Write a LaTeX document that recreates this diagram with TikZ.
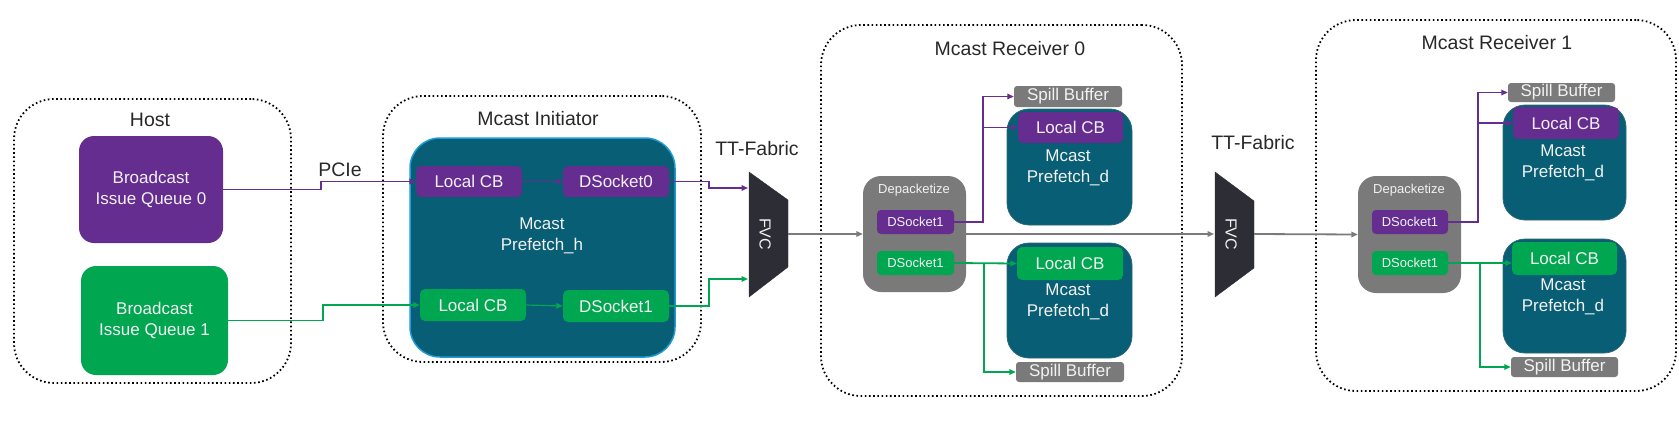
\documentclass[tikz,border=0pt]{standalone}
\usepackage{fontspec}
\setmainfont{Liberation Sans}
\usetikzlibrary{arrows.meta}
\definecolor{cpurple}{RGB}{102,45,145}
\definecolor{cgreen}{RGB}{0,166,80}
\definecolor{cteal}{RGB}{8,94,116}
\definecolor{cblue}{RGB}{30,154,214}
\definecolor{cgray}{RGB}{122,122,122}
\definecolor{cdark}{RGB}{45,45,53}
\definecolor{ctext}{RGB}{40,40,40}
\definecolor{cwhite}{RGB}{242,242,242}
\tikzset{
  grp/.style={draw=black, line width=1.8pt, dash pattern=on 1.6pt off 2.6pt, rounded corners=40pt, inner sep=0pt},
  ttl/.style={text=ctext, font=\fontsize{19.5}{22}\selectfont, inner sep=0pt},
  blk/.style={inner sep=0pt, align=center, text=cwhite, font=\fontsize{17}{21}\selectfont},
  pbox/.style={blk, fill=cpurple},
  gbox/.style={blk, fill=cgreen},
  sbox/.style={blk, fill=cgray, rounded corners=3pt},
  tealbox/.style={blk, fill=cteal, draw=cteal!70!gray, line width=0.8pt},
  small/.style={font=\fontsize{13}{15}\selectfont},
  tip/.style={-{Triangle[length=6.5pt,width=5.5pt]}},
  pl/.style={tip, draw=cpurple, line width=1.8pt},
  gl/.style={tip, draw=cgreen, line width=1.8pt},
  gyl/.style={tip, draw=cgray, line width=1.8pt},
}
\begin{document}
\begin{tikzpicture}[x=1pt,y=-1pt]
\useasboundingbox (0,0) rectangle (1679,423);
% group boxes
\node[grp, minimum width=277pt, minimum height=284pt] (host) at (152.5,241) {};
\node[grp, minimum width=318pt, minimum height=266pt] (init) at (542,229) {};
\node[grp, minimum width=361pt, minimum height=371pt] (rcv0) at (1001.5,210.5) {};
\node[grp, minimum width=360pt, minimum height=371pt] (rcv1) at (1496,205.5) {};
\node[ttl] (thost) at (150,120) {Host};
\node[ttl] (tinit) at (538,119) {Mcast Initiator};
\node[ttl] (trcv0) at (1010,49) {Mcast Receiver 0};
\node[ttl] (trcv1) at (1497,43) {Mcast Receiver 1};
\node[ttl] (tpcie) at (340,170) {PCIe};
\node[ttl] (tfab1) at (757,149) {TT-Fabric};
\node[ttl] (tfab2) at (1253,143) {TT-Fabric};
% host
\node[pbox, rounded corners=15pt, minimum width=144pt, minimum height=107pt] (biq0) at (151,189.5) {Broadcast\\Issue Queue 0};
\node[gbox, rounded corners=15pt, minimum width=147pt, minimum height=109pt] (biq1) at (154.5,320.5) {Broadcast\\Issue Queue 1};
% initiator
\node[blk, fill=cteal, draw=cblue, line width=1.5pt, rounded corners=30pt, minimum width=265pt, minimum height=219pt] (pfh) at (542.5,247.5) {};
\node[blk] (pfhtext) at (542,235.5) {Mcast\\Prefetch\_h};
\node[pbox, rounded corners=5pt, minimum width=106pt, minimum height=31pt] (lcb0) at (469,181.5) {Local CB};
\node[pbox, rounded corners=5pt, minimum width=106pt, minimum height=31pt] (dso0) at (616,181.5) {DSocket0};
\node[gbox, rounded corners=5pt, minimum width=106pt, minimum height=32pt] (lcb1) at (473,305) {Local CB};
\node[gbox, rounded corners=5pt, minimum width=106pt, minimum height=32pt] (dso1) at (616,306) {DSocket1};
% FVC 1
\filldraw[fill=cdark, draw=cdark] (749,172) -- (788,200) -- (788,267) -- (749,297) -- cycle;
\node[blk, rotate=-90, font=\fontsize{16}{18}\selectfont] (fvc1) at (765,234) {FVC};
\coordinate (f1a) at (748,188);
\coordinate (f1b) at (748,279);
\coordinate (f1o) at (788,234);
% FVC 2
\filldraw[fill=cdark, draw=cdark] (1215,172) -- (1254,201) -- (1254,268) -- (1215,297) -- cycle;
\node[blk, rotate=-90, font=\fontsize{16}{18}\selectfont] (fvc2) at (1231,234) {FVC};
\coordinate (f2i) at (1214,234);
\coordinate (f2o) at (1254,234);
% receiver 0
\node[blk, fill=cgray, rounded corners=18pt, minimum width=103pt, minimum height=116pt] (dp0) at (914.5,234) {};
\node[blk, small] (dp0t) at (914,190) {Depacketize};
\node[pbox, small, rounded corners=4pt, minimum width=77pt, minimum height=24pt] (ds0p) at (915.5,222) {DSocket1};
\node[gbox, small, rounded corners=4pt, minimum width=77pt, minimum height=24pt] (ds0g) at (915.5,263) {DSocket1};
\node[sbox, minimum width=108pt, minimum height=21pt] (sb0t) at (1068,96.5) {Spill Buffer};
\node[tealbox, rounded corners=22pt, minimum width=125pt, minimum height=116pt] (pd0t) at (1069.5,167) {};
\node[blk] (pd0tt) at (1068,167.5) {Mcast\\Prefetch\_d};
\node[pbox, rounded corners=5pt, minimum width=105pt, minimum height=31pt] (lc0t) at (1070.5,127.5) {Local CB};
\node[tealbox, rounded corners=22pt, minimum width=125pt, minimum height=115pt] (pd0b) at (1069.5,300.5) {};
\node[blk] (pd0bt) at (1068,301.5) {Mcast\\Prefetch\_d};
\node[gbox, rounded corners=5pt, minimum width=106pt, minimum height=33pt] (lc0b) at (1070,263.5) {Local CB};
\node[sbox, minimum width=108pt, minimum height=20pt] (sb0b) at (1070,372) {Spill Buffer};
% receiver 1
\node[blk, fill=cgray, rounded corners=18pt, minimum width=103pt, minimum height=117pt] (dp1) at (1409.5,234.5) {};
\node[blk, small] (dp1t) at (1409,190) {Depacketize};
\node[pbox, small, rounded corners=4pt, minimum width=76pt, minimum height=24pt] (ds1p) at (1410,222) {DSocket1};
\node[gbox, small, rounded corners=4pt, minimum width=76pt, minimum height=24pt] (ds1g) at (1410,263) {DSocket1};
\node[sbox, minimum width=107pt, minimum height=19pt] (sb1t) at (1561.5,92.5) {Spill Buffer};
\node[tealbox, rounded corners=22pt, minimum width=123pt, minimum height=115pt] (pd1t) at (1564.5,162.5) {};
\node[blk] (pd1tt) at (1563,162.5) {Mcast\\Prefetch\_d};
\node[pbox, rounded corners=5pt, minimum width=106pt, minimum height=32pt] (lc1t) at (1566,123) {Local CB};
\node[tealbox, rounded corners=22pt, minimum width=123pt, minimum height=114pt] (pd1b) at (1564.5,296) {};
\node[blk] (pd1bt) at (1563,297) {Mcast\\Prefetch\_d};
\node[gbox, rounded corners=5pt, minimum width=105pt, minimum height=33pt] (lc1b) at (1564.5,258.5) {Local CB};
\node[sbox, minimum width=107pt, minimum height=20pt] (sb1b) at (1564.5,367) {Spill Buffer};
% connectors host -> initiator
\draw[pl] (biq0.east) -- ++(98,0) |- (lcb0.west);
\draw[gl] (biq1.east) -- ++(95,0) |- (lcb1.west);
\draw[pl, line width=1.2pt] (lcb0.east) -- (dso0.west);
\draw[gl, line width=1.2pt] (lcb1.east) -- (dso1.west);
\draw[pl] (dso0.east) -- ++(40,0) |- (f1a);
\draw[gl] (dso1.east) -- ++(40,0) |- (f1b);
% gray fabric line
\draw[gyl] (f1o) -- (dp0.west);
\draw[gyl] (dp0.east) -- (f2i);
\draw[gyl] (f2o) -- (dp1.west);
% receiver 0 fan-out
\draw[pl] (ds0p.east) -- ++(29,0) |- (sb0t.west);
\draw[pl] (ds0p.east) ++(29,0) |- (lc0t.west);
\draw[gl] (ds0g.east) -- (lc0b.west);
\draw[gl] (ds0g.east) ++(30,0) |- (sb0b.west);
% receiver 1 fan-out
\draw[pl] (ds1p.east) -- ++(30,0) |- (sb1t.west);
\draw[pl] (ds1p.east) ++(30,0) |- (lc1t.west);
\draw[gl] (ds1g.east) -- (ds1g.east -| lc1b.west);
\draw[gl] (ds1g.east) ++(32,0) |- (sb1b.west);
\end{tikzpicture}
\end{document}
